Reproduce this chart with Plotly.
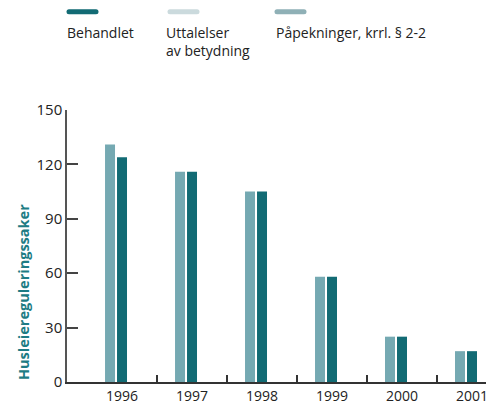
import plotly.graph_objects as go

years = [1996, 1997, 1998, 1999, 2000, 2001]
behandlet = [124, 116, 105, 58, 25, 17]
uttalelser = [0, 0, 0, 0, 0, 0]
papekninger = [131, 116, 105, 58, 25, 17]
y_ticks = [0, 30, 60, 90, 120, 150]

c_dark = "#126b74"
c_light = "#75a9b2"
c_pale = "#cbdadd"
c_leg_pap = "#8fb0b6"
font = "Open Sans"

fig = go.Figure()
fig.add_trace(go.Bar(x=years, y=papekninger, name="Påpekninger, krrl. § 2-2",
                     marker=dict(color=c_light, line=dict(width=0)), showlegend=False))
fig.add_trace(go.Bar(x=years, y=behandlet, name="Behandlet",
                     marker=dict(color=c_dark, line=dict(width=0)), showlegend=False))
fig.add_trace(go.Bar(x=years, y=uttalelser, name="Uttalelser av betydning",
                     marker=dict(color=c_pale, line=dict(width=0)), showlegend=False))
# invisible trace for boundary ticks on overlay axis
fig.add_trace(go.Scatter(x=[years[0], years[-1]], y=[0, 0], xaxis="x2", mode="none",
                         showlegend=False, hoverinfo="skip"))

x_range = [years[0] - 0.786, years[-1] + 0.2]
fig.update_layout(
    width=486, height=403,
    margin=dict(l=67, r=0, t=110, b=21),
    paper_bgcolor="white", plot_bgcolor="white",
    barmode="group", bargap=0.486, bargroupgap=0.167,
    font=dict(family=font, size=14, color="#222"),
    xaxis=dict(range=x_range, tickvals=years, ticktext=[str(y) for y in years],
               showline=True, linecolor="#333", linewidth=2, ticks="",
               showgrid=False, zeroline=False, automargin=False,
               ticklabeloverflow="allow",
               tickfont=dict(size=14, color="#222")),
    xaxis2=dict(range=x_range, overlaying="x", anchor="y",
                tickvals=[y + 0.5 for y in years[:-1]], ticks="inside", ticklen=7,
                tickwidth=2, tickcolor="#333", showticklabels=False, automargin=False,
                showgrid=False, zeroline=False, showline=False),
    yaxis=dict(range=[0, 150], tickvals=y_ticks, ticks="inside", ticklen=11,
               tickwidth=1.5, tickcolor="#444", showline=True, linecolor="#555",
               linewidth=1.5, showgrid=False, zeroline=False, automargin=False,
               tickfont=dict(size=15, color="#222")),
)

fig.add_annotation(text="<b>Husleiereguleringssaker</b>", textangle=-90,
                   xref="paper", yref="paper", x=-0.105, y=0, xanchor="center",
                   yanchor="bottom", showarrow=False,
                   font=dict(family=font, size=14.5, color="#1d7c84"))

def pill(cx, cy, color):
    h = 13.5
    path = (f"M {-h},2.5 L {h},2.5 Q {h+2.5},2.5 {h+2.5},0 Q {h+2.5},-2.5 {h},-2.5 "
            f"L {-h},-2.5 Q {-h-2.5},-2.5 {-h-2.5},0 Q {-h-2.5},2.5 {-h},2.5 Z")
    fig.add_shape(type="path", xref="paper", yref="paper", xsizemode="pixel",
                  ysizemode="pixel", xanchor=(cx - 67) / 419, yanchor=(382 - cy) / 272,
                  path=path, fillcolor=color, line=dict(width=0))

legend_items = [("Behandlet", c_dark, 82.5, 65),
                ("Uttalelser<br>av betydning", c_pale, 183.5, 164),
                ("Påpekninger, krrl. § 2-2", c_leg_pap, 290.5, 274)]
for text, color, cx, tx in legend_items:
    pill(cx, 11.7, color)
    fig.add_annotation(text=text, xref="paper", yref="paper", x=(tx - 67) / 419,
                       y=(382 - 21) / 272, xanchor="left", yanchor="top", align="left",
                       showarrow=False, font=dict(family=font, size=14, color="#222"))

fig.write_html("out.html", config={"displayModeBar": False},
               post_script="document.body.style.margin='0';")
